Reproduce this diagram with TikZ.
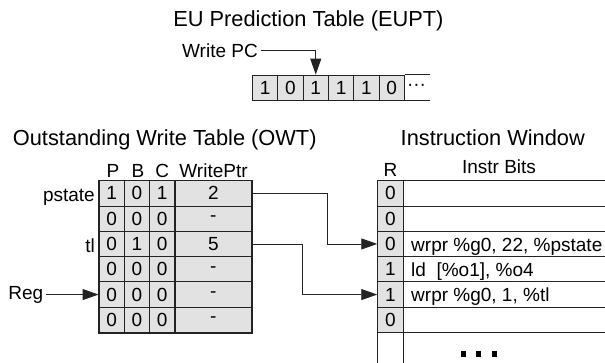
\documentclass[tikz,border=0pt]{standalone}
\usepackage{fontspec}
\setmainfont{Liberation Sans}
\usetikzlibrary{arrows.meta}
\definecolor{cellgray}{RGB}{226,226,226}
\definecolor{linecol}{RGB}{35,35,35}
\tikzset{
 lbl/.style={font=\fontsize{19}{19}\selectfont, inner sep=0pt},
 ttl/.style={font=\fontsize{21.8}{22}\selectfont, inner sep=0pt},
 cell/.style={draw=linecol, line width=0.9pt, fill=cellgray, minimum width=25.3pt, minimum height=25.3pt, inner sep=0pt, font=\fontsize{19}{19}\selectfont},
 wcell/.style={cell, minimum width=76.7pt},
 rcell/.style={cell, minimum width=25.6pt},
 conn/.style={draw=linecol, line width=0.9pt, -{Triangle[length=16pt,width=11pt]}},
 plain/.style={draw=linecol, line width=0.9pt},
 outer/.style={draw=linecol, line width=1.4pt},
 sq/.style={fill=black, minimum size=5.5pt, inner sep=0pt},
}
\begin{document}
\begin{tikzpicture}[x=1pt,y=-1pt]
\useasboundingbox (0,0) rectangle (605,362);

% ---------- EUPT ----------
\node[ttl, anchor=base] (tEUPT) at (308.4,26.7) {EU Prediction Table (EUPT)};
\foreach \v [count=\k] in {1,0,1,1,1,0}
  \node[cell] (e\k) at ({252.5+25.3*(\k-0.5)}, 87.65) {\v};
\draw[plain] (e6.north east) -- ++(25,0);
\draw[plain] (e6.south east) -- ++(25,0);
\node[lbl] (edots) at (416.5, 87.65) {\textperiodcentered\textperiodcentered\textperiodcentered};
\node[lbl, anchor=east, inner sep=2.5pt] (wpc) at (260.5,50.5) {Write PC};
\draw[conn] (wpc.east) -| (e3.north);

% ---------- OWT ----------
\node[ttl, anchor=base west] (tOWT) at (12.7,145) {Outstanding Write Table (OWT)};
\node[lbl, anchor=base] (hP) at (113,177) {P};
\node[lbl, anchor=base] (hB) at (138,177) {B};
\node[lbl, anchor=base] (hC) at (162.3,177) {C};
\node[lbl, anchor=base] (hW) at (213.5,177) {WritePtr};
\foreach \a/\b/\c/\w [count=\r] in {1/0/1/2, 0/0/0/-, 0/1/0/5, 0/0/0/-, 0/0/0/-, 0/0/0/-} {
  \node[cell]  (p\r) at (111.65, {180.7+25.3*(\r-0.5)}) {\a};
  \node[cell]  (b\r) at (136.95, {180.7+25.3*(\r-0.5)}) {\b};
  \node[cell]  (c\r) at (162.25, {180.7+25.3*(\r-0.5)}) {\c};
  \node[wcell] (w\r) at (213.35, {180.7+25.3*(\r-0.5)}) {\w};
}
\draw[outer] (p1.north west) rectangle (w6.south east);
\node[lbl, anchor=base east] (lps) at (95,201.5) {pstate};
\node[lbl, anchor=base east] (ltl) at (95,252) {tl};
\node[lbl, anchor=east, inner sep=2.5pt] (reg) at (46,294.55) {Reg};
\draw[conn] (reg.east) -- (p5.west);

% ---------- Instruction Window ----------
\node[ttl, anchor=base] (tIW) at (492.8,145) {Instruction Window};
\node[lbl, anchor=base] (hR) at (390.5,176) {R};
\node[lbl, anchor=base] (hI) at (499,173) {Instr Bits};
\foreach \v [count=\r] in {0,0,0,1,1,0}
  \node[rcell] (r\r) at (390.5, {180.7+25.3*(\r-0.5)}) {\v};
\foreach \k in {0,...,6}
  \draw[plain] (403.3, {180.7+25.3*\k}) -- (605, {180.7+25.3*\k});
\draw[plain] (r6.south west) -- ++(0,30);
\draw[plain] (r6.south east) -- ++(0,30);
\node[lbl, anchor=base west] (i3) at (411,251.3) {wrpr \%g0, 22, \%pstate};
\node[lbl, anchor=base west] (i4) at (411,276.6) {ld\ \ [\%o1], \%o4};
\node[lbl, anchor=base west] (i5) at (411,301.9) {wrpr \%g0, 1, \%tl};
\node[sq] (d1) at (463.3,354) {};
\node[sq] (d2) at (478.7,354) {};
\node[sq] (d3) at (494.7,354) {};

% ---------- connectors ----------
\draw[conn] (w1.east) -- ++(75,0) |- (r3.west);
\draw[conn] (w3.east) -- ++(50,0) |- (r5.west);
\end{tikzpicture}
\end{document}
